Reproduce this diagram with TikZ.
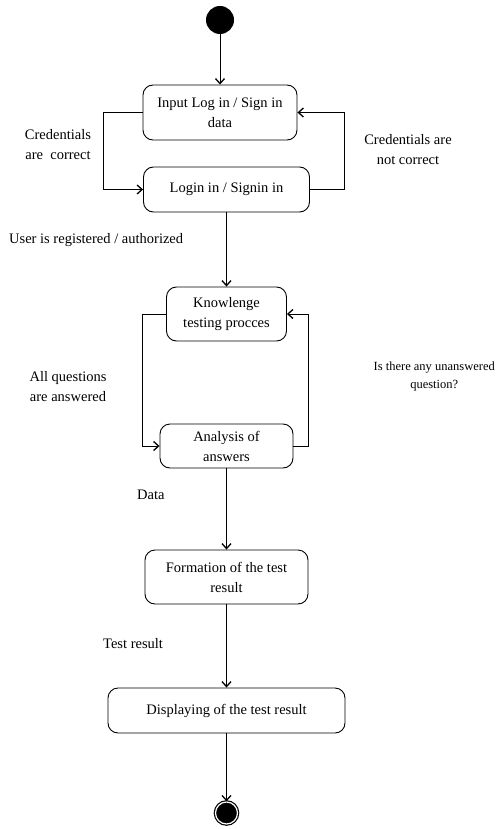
\documentclass[tikz,border=0pt]{standalone}
\usepackage{fontspec}
\setmainfont{Liberation Serif}
\usetikzlibrary{arrows.meta,positioning}

\begin{document}
\begin{tikzpicture}[x=1pt,y=-1pt,
  act/.style={rectangle,rounded corners=10pt,draw,line width=0.9pt,align=center,
              font=\fontsize{14.5}{20}\selectfont,inner sep=2pt},
  ar/.style={-{Straight Barb[length=5pt,width=9pt,line width=1.3pt]},line width=0.8pt},
  lab/.style={font=\fontsize{14.5}{20}\selectfont,align=center,inner sep=1pt}
]
\useasboundingbox (0,0) rectangle (497,829);

% start and end states
\node[circle,fill=black,minimum size=28pt,inner sep=0] (init) at (220,20) {};
\node[circle,fill=black,draw=black,line width=1.2pt,double=white,double distance=1.2pt,
      minimum size=22pt,inner sep=0] (fin) at (226.5,813) {};

% activities
\node[act,minimum width=154pt,minimum height=55pt] (input) at (220,112.5) {Input Log in / Sign in\\data};
\node[act,minimum width=166pt,minimum height=45pt] (login) at (226.5,189.5) {Login in / Signin in};
\node[act,minimum width=120pt,minimum height=54pt] (test) at (226.5,314) {Knowlenge\\testing procces};
\node[act,minimum width=133pt,minimum height=44pt] (anal) at (226.5,446) {Analysis of\\answers};
\node[act,minimum width=163pt,minimum height=54pt] (form) at (226.5,577) {Formation of the test\\result};
\node[act,minimum width=237pt,minimum height=45pt] (disp) at (226.5,710.5) {Displaying of the test result};

% main flow
\draw[ar] (init) -- (input);
\draw[ar] (login) -- (test);
\draw[ar] (anal) -- (form);
\draw[ar] (form) -- (disp);
\draw[ar] (disp) -- (fin);

% loops
\draw[ar] (input.west) -- ++(-39,0) |- (login.west);
\draw[ar] (login.east) -- (344,189.5) |- (input.east);
\draw[ar] (test.west) -- ++(-24,0) |- (anal.west);
\draw[ar] (anal.east) -- (308,446) |- (test.east);

% guards
\node[lab] (lcor) at (58,145) {Credentials\\ are\ \ correct};
\node[lab] (lnot) at (408,150) {Credentials are\\not correct};
\node[lab,anchor=west] (lreg) at (8,240) {User is registered / authorized};
\node[lab] (lall) at (68,387) {All questions\\are answered};
\node[lab,anchor=east,font=\fontsize{12.5}{18}\selectfont] (lany) at (496,376) {Is there any unanswered\\question?};
\node[lab,anchor=west] (ldat) at (136,495) {Data};
\node[lab,anchor=west] (lres) at (102,644) {Test result};
\end{tikzpicture}
\end{document}
